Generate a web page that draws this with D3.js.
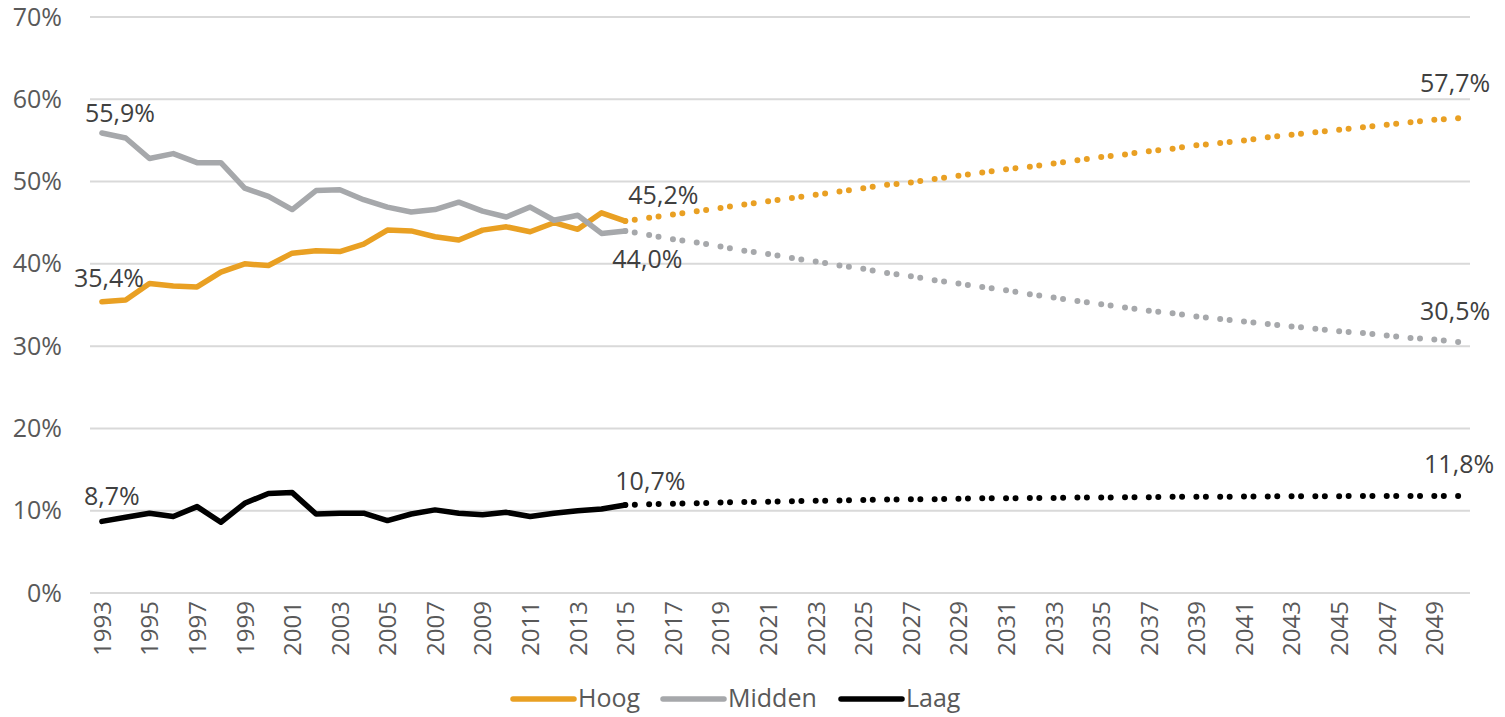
<!DOCTYPE html>
<html>
<head>
<meta charset="utf-8">
<script src="https://cdn.jsdelivr.net/npm/d3@7"></script>
<style>
  body { margin: 0; background: #fff; }
  svg { display: block; font-family: "Open Sans", sans-serif; }
</style>
</head>
<body>
<svg id="chart" width="1505" height="717"></svg>
<script>
// categories
var years = d3.range(1993, 2051);
var histYears = d3.range(1993, 2016);
var projYears = d3.range(2015, 2051);
var yTicks = [0, 10, 20, 30, 40, 50, 60, 70];
var seriesNames = ['Hoog', 'Midden', 'Laag'];

// measured 1993-2015
var hoogHist = [35.4, 35.6, 37.6, 37.3, 37.2, 39.0, 40.0, 39.8, 41.3, 41.6, 41.5, 42.4, 44.1, 44.0, 43.3, 42.9, 44.1, 44.5, 43.9, 45.0, 44.2, 46.2, 45.2];
var middenHist = [55.9, 55.3, 52.8, 53.4, 52.3, 52.3, 49.2, 48.2, 46.6, 48.9, 49.0, 47.8, 46.9, 46.3, 46.6, 47.5, 46.4, 45.7, 46.9, 45.3, 45.9, 43.7, 44.0];
var laagHist = [8.7, 9.2, 9.7, 9.3, 10.5, 8.6, 10.9, 12.1, 12.2, 9.6, 9.7, 9.7, 8.8, 9.6, 10.1, 9.7, 9.5, 9.8, 9.3, 9.7, 10.0, 10.2, 10.7];

// projection 2015-2050
var hoogProj = [45.2, 45.6, 46.0, 46.4, 46.8, 47.2, 47.6, 48.0, 48.4, 48.8, 49.2, 49.6, 49.9, 50.3, 50.7, 51.1, 51.5, 51.8, 52.2, 52.6, 53.0, 53.3, 53.7, 54.0, 54.4, 54.7, 55.0, 55.4, 55.7, 56.0, 56.3, 56.6, 56.9, 57.2, 57.5, 57.7];
var middenProj = [44.0, 43.5, 43.0, 42.6, 42.1, 41.6, 41.2, 40.7, 40.3, 39.8, 39.4, 38.9, 38.5, 38.0, 37.6, 37.2, 36.8, 36.3, 35.9, 35.5, 35.1, 34.7, 34.3, 34.0, 33.6, 33.3, 33.0, 32.7, 32.4, 32.1, 31.8, 31.6, 31.3, 31.0, 30.8, 30.5];
var laagProj = [10.7, 10.8, 10.85, 10.9, 11.0, 11.05, 11.1, 11.15, 11.2, 11.25, 11.3, 11.35, 11.4, 11.4, 11.45, 11.5, 11.5, 11.55, 11.55, 11.6, 11.6, 11.65, 11.65, 11.7, 11.7, 11.7, 11.72, 11.74, 11.75, 11.76, 11.77, 11.78, 11.78, 11.79, 11.8, 11.8];

// labelled points: series index, year
var labelPoints = [
  [0, 1993], [1, 1993], [2, 1993],
  [0, 2015], [1, 2015], [2, 2015],
  [0, 2050], [1, 2050], [2, 2050]
];

(function() {
  var colors = ['#E9A023', '#A6A8AB', '#000000'];
  var hist = [hoogHist, middenHist, laagHist];
  var proj = [hoogProj, middenProj, laagProj];
  // label offsets (px) per labelled point, same order as labelPoints
  var labelOffsets = [
    [7, -15], [18, -11], [10, -16],
    [38, -17], [22, 37], [25, -15],
    [-3, -26], [-3, -22], [1, -23]
  ];

  var svg = d3.select('#chart');
  var left = 90, right = 1470, top = 17, bottom = 593;

  var x = d3.scalePoint().domain(years).range([left, right]).padding(0.5);
  var y = d3.scaleLinear().domain([0, 70]).range([bottom, top]);

  // gridlines
  svg.append('g')
    .selectAll('line')
    .data(yTicks)
    .join('line')
    .attr('x1', left)
    .attr('x2', right)
    .attr('y1', function(d) { return y(d); })
    .attr('y2', function(d) { return y(d); })
    .attr('stroke', '#d9d9d9')
    .attr('stroke-width', 2);

  // y axis
  var yAxis = svg.append('g')
    .attr('transform', 'translate(' + (left - 28) + ',0)')
    .call(d3.axisLeft(y).tickValues(yTicks).tickSize(0).tickFormat(function(d) { return d + '%'; }));
  yAxis.select('.domain').remove();
  yAxis.selectAll('text')
    .attr('x', 0)
    .attr('fill', '#595959')
    .style('font-size', '25px')
    .style('font-family', '"Open Sans", sans-serif');

  // x axis
  var xAxis = svg.append('g')
    .attr('transform', 'translate(0,' + bottom + ')')
    .call(d3.axisBottom(x).tickValues(years.filter(function(d) { return (d - 1993) % 2 === 0; })).tickSize(0));
  xAxis.select('.domain').remove();
  xAxis.selectAll('text')
    .attr('transform', 'rotate(-90)')
    .attr('x', -8)
    .attr('y', 0)
    .attr('dy', '0.35em')
    .attr('text-anchor', 'end')
    .attr('fill', '#595959')
    .style('font-size', '24px')
    .style('font-family', '"Open Sans", sans-serif');

  var line = d3.line()
    .x(function(d) { return x(d[0]); })
    .y(function(d) { return y(d[1]); });

  seriesNames.forEach(function(name, s) {
    var g = svg.append('g');
    // dotted projection, one path per year so the dot pattern restarts
    var pts = projYears.map(function(yr, i) { return [yr, proj[s][i]]; });
    for (var i = 0; i < pts.length - 1; i++) {
      g.append('path')
        .attr('d', line([pts[i], pts[i + 1]]))
        .attr('fill', 'none')
        .attr('stroke', colors[s])
        .attr('stroke-width', 6)
        .attr('stroke-linecap', 'round')
        .attr('stroke-dasharray', '0 9.5 0 60');
    }
    // last point dot
    g.append('circle')
      .attr('cx', x(projYears[projYears.length - 1]))
      .attr('cy', y(proj[s][proj[s].length - 1]))
      .attr('r', 3)
      .attr('fill', colors[s]);
    // measured line
    g.append('path')
      .attr('d', line(histYears.map(function(yr, i) { return [yr, hist[s][i]]; })))
      .attr('fill', 'none')
      .attr('stroke', colors[s])
      .attr('stroke-width', 5.5)
      .attr('stroke-linejoin', 'round')
      .attr('stroke-linecap', 'round');
  });

  // data labels
  function valueAt(s, yr) {
    if (yr <= 2015) return hist[s][histYears.indexOf(yr)];
    return proj[s][projYears.indexOf(yr)];
  }
  svg.append('g')
    .selectAll('text')
    .data(labelPoints)
    .join('text')
    .attr('x', function(d, i) { return x(d[1]) + labelOffsets[i][0]; })
    .attr('y', function(d, i) { return y(valueAt(d[0], d[1])) + labelOffsets[i][1]; })
    .attr('text-anchor', 'middle')
    .attr('fill', '#404040')
    .style('font-size', '25px')
    .text(function(d) { return d3.format('.1f')(valueAt(d[0], d[1])).replace('.', ',') + '%'; });

  // legend
  var legendX = [513, 663, 841];
  var lg = svg.append('g').attr('transform', 'translate(0,699)');
  seriesNames.forEach(function(name, s) {
    lg.append('line')
      .attr('x1', legendX[s])
      .attr('x2', legendX[s] + 61)
      .attr('y1', 0)
      .attr('y2', 0)
      .attr('stroke', colors[s])
      .attr('stroke-width', 5.5)
      .attr('stroke-linecap', 'round');
    lg.append('text')
      .attr('x', legendX[s] + 65)
      .attr('y', 8)
      .attr('fill', '#595959')
      .style('font-size', '25px')
      .text(name);
  });
})();
</script>
</body>
</html>
